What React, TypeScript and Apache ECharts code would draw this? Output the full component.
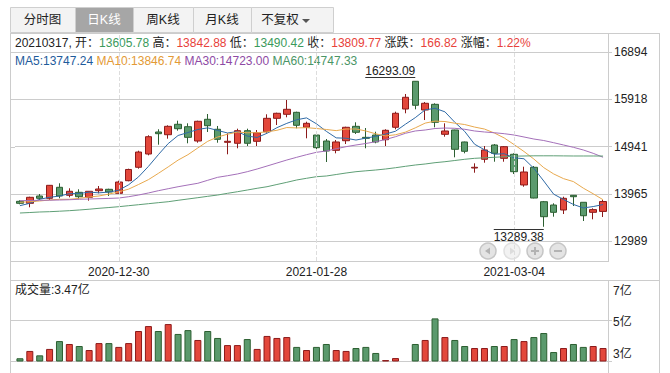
import React, { useEffect, useRef } from 'react';
import * as echarts from 'echarts';

const dates = ['2020-12-16','2020-12-17','2020-12-18','2020-12-21','2020-12-22','2020-12-23','2020-12-24','2020-12-25','2020-12-28','2020-12-29','2020-12-30','2020-12-31','2021-01-04','2021-01-05','2021-01-06','2021-01-07','2021-01-08','2021-01-11','2021-01-12','2021-01-13','2021-01-14','2021-01-15','2021-01-18','2021-01-19','2021-01-20','2021-01-21','2021-01-22','2021-01-25','2021-01-26','2021-01-27','2021-01-28','2021-01-29','2021-02-01','2021-02-02','2021-02-03','2021-02-04','2021-02-05','2021-02-08','2021-02-09','2021-02-10','2021-02-18','2021-02-19','2021-02-22','2021-02-23','2021-02-24','2021-02-25','2021-02-26','2021-03-01','2021-03-02','2021-03-03','2021-03-04','2021-03-05','2021-03-08','2021-03-09','2021-03-10','2021-03-11','2021-03-12','2021-03-15','2021-03-16','2021-03-17'];

const opens = [13814,13773,13924,13876,14103,13938,14000,13897,14033,14062,13979,14239,14516,14790,15244,15188,15403,15353,15058,15506,15300,15031,15011,15271,15052,15250,15526,15609,15650,15341,15182,15058,14866,15064,15361,15134,15182,15085,15341,15718,16290,15698,15815,15196,15285,15038,14501,14681,14976,14701,14784,14151,14516,13806,13738,13635,13938,13794,13587,13605.78];
const closes = [13773,13897,13876,14144,13924,14021,13909,14021,14068,14006,14212,14471,14831,15147,15209,15361,15312,15134,15465,15374,15093,15052,15271,15011,15229,15526,15630,15712,15382,15423,14920,14852,15038,15341,15238,15114,15038,15279,15630,15960,15795,15836,15444,15265,14887,14846,14516,14873,14804,14941,14425,14419,13882,13497,13587,13876,13909,13517,13643,13809.77];
const lows = [13752,13691,13841,13841,13876,13897,13856,13827,13979,13924,13975,14227,14487,14763,14982,15106,15271,15011,15023,15244,15023,14784,14908,14955,14955,15229,15388,15547,15320,15114,14887,14625,14804,14996,15203,14908,15011,14955,15299,15630,15712,15491,15341,15147,14722,14804,14404,14611,14631,14631,14378,14115,13876,13289.38,13497,13552,13717,13408,13443,13490.42];
const highs = [13835,13909,13965,14150,14186,14083,14062,14027,14130,14074,14239,14487,14858,15176,15300,15382,15477,15423,15477,15615,15368,15217,15312,15312,15285,15609,15642,15904,15663,15456,15250,15099,15079,15353,15444,15326,15250,15300,15663,16028,16293.09,15863,15836,15423,15290,15045,14598,14955,14996,14955,14804,14528,14542,13821,13773,13909,13944,13794,13670,13842.88];

// 成交量 (亿)
const volumes = [2.91,3.31,3.07,3.42,3.85,3.69,3.58,3.36,3.74,3.74,3.53,3.74,4.40,4.67,4.40,4.78,4.24,4.45,3.91,4.40,4.02,3.63,3.63,3.96,3.42,4.13,4.02,4.07,3.53,3.36,3.53,3.69,3.36,3.31,3.47,3.53,3.20,2.81,2.92,2.78,3.69,3.91,5.09,4.07,3.91,3.58,3.47,3.47,3.58,3.58,3.96,3.85,4.07,4.29,3.25,3.47,3.69,3.53,3.58,3.47];

const ma5 = [13724,13773,13856,13897,13923,13972,13975,14004,13989,14005,14043,14156,14318,14534,14775,15005,15172,15233,15296,15329,15276,15224,15251,15160,15131,15218,15333,15422,15496,15535,15413,15258,15123,15115,15078,15117,15154,15202,15260,15404,15540,15700,15733,15660,15445,15256,14992,14877,14785,14796,14712,14692,14494,14233,13962,13852,13750,13677,13706,13747.24];
const ma10 = [13794,13806,13821,13841,13856,13856,13876,13903,13924,13964,14008,14066,14161,14261,14390,14524,14664,14776,14915,15052,15140,15198,15242,15228,15230,15247,15279,15336,15328,15333,15316,15296,15272,15305,15306,15265,15206,15163,15187,15241,15329,15427,15468,15460,15425,15398,15346,15305,15223,15121,14984,14842,14686,14509,14379,14282,14221,14086,13970,13846.74];
const ma30 = [13827,13831,13835,13837,13841,13847,13856,13862,13868,13874,13882,13909,13944,13986,14033,14074,14115,14151,14186,14248,14309,14342,14378,14425,14481,14542,14604,14666,14722,14776,14825,14852,14899,14941,14976,15007,15044,15089,15147,15217,15265,15285,15316,15326,15320,15300,15265,15244,15229,15209,15182,15141,15099,15068,15023,14976,14928,14873,14804,14723.00];
const ma60 = [13573,13583,13594,13600,13610,13621,13635,13651,13670,13686,13703,13724,13744,13765,13786,13806,13835,13862,13889,13917,13944,13979,14012,14047,14083,14115,14161,14206,14254,14289,14322,14336,14367,14398,14425,14443,14460,14481,14507,14536,14563,14584,14611,14631,14656,14681,14701,14712,14722,14734,14745,14749,14753,14753,14753,14751,14749,14749,14749,14747.33];

const priceTicks = [12989, 13965, 14941, 15918, 16894];
const volumeTicks = [2.76, 5, 7.19];
const volumeTickLabels = ['3亿', '5亿', '7亿'];
const dateLabelIndexes = [10, 30, 50];
const tabNames = ['分时图', '日K线', '周K线', '月K线', '不复权'];
const infoDate = '20210317';
const infoValues = ['13605.78', '13842.88', '13490.42', '13809.77', '166.82', '1.22%'];
const maNames = ['MA5', 'MA10', 'MA30', 'MA60'];
const maLast = ['13747.24', '13846.74', '14723.00', '14747.33'];
const volumeLast = '3.47亿';

const FONT = '"Liberation Sans", "Noto Sans CJK SC", sans-serif';
const GRID = '#cccccc';
const UP_FILL = '#e3473b';
const UP_BORDER = '#8c1a1a';
const DOWN_FILL = '#5b9a6d';
const DOWN_BORDER = '#2c5f31';
const RED_TXT = '#e8423a';
const GREEN_TXT = '#3b9a5c';
const MA_LINE = ['#2f6aa6', '#e8a94e', '#a470b9', '#5f9f76'];
const MA_TXT = ['#1e5b9b', '#e39a35', '#8e4aa4', '#4a9566'];

const line = (x1: number, y1: number, x2: number, y2: number, color = GRID) => ({
  type: 'line', shape: { x1, y1, x2, y2 }, style: { stroke: color, lineWidth: 1 }, silent: true,
});

function buildGraphic() {
  const els: any[] = [];
  const tabX = [10, 75, 133, 193, 251];
  const tabW = [65, 58, 60, 58, 82];
  tabNames.forEach((name, i) => {
    const sel = i === 1;
    els.push({
      type: 'rect', shape: { x: tabX[i] + 0.5, y: 7.5, width: tabW[i], height: 25 },
      style: { fill: sel ? '#a6a6a6' : '#f3f3f3', stroke: '#cfcfcf', lineWidth: 1 }, silent: true,
    });
    const cx = i === 4 ? tabX[i] + 29 : tabX[i] + tabW[i] / 2;
    els.push({
      type: 'text', x: cx, y: 20,
      style: { text: name, fill: sel ? '#ffffff' : '#222', fontSize: 12.5, fontFamily: FONT, align: 'center', verticalAlign: 'middle' },
      silent: true,
    });
  });
  els.push({ type: 'polygon', shape: { points: [[302, 19], [310, 19], [306, 23]] }, style: { fill: '#555' }, silent: true });

  // frame lines
  els.push(line(10, 33.5, 660, 33.5));
  els.push(line(10.5, 33, 10.5, 373));
  els.push(line(659.5, 33, 659.5, 373));
  els.push(line(608.5, 33, 608.5, 261));
  els.push(line(608.5, 280, 608.5, 373));
  els.push(line(10, 261.5, 609, 261.5));
  els.push(line(10, 280.5, 660, 280.5));

  // info line
  const rich: any = {
    k: { fill: '#222', fontSize: 12, fontFamily: FONT },
    g: { fill: GREEN_TXT, fontSize: 12, fontFamily: FONT },
    r: { fill: RED_TXT, fontSize: 12, fontFamily: FONT },
  };
  const info = `{k|${infoDate}, 开：}{g|${infoValues[0]}}{k| 高：}{r|${infoValues[1]}}{k| 低：}{g|${infoValues[2]}}{k| 收：}{r|${infoValues[3]}}{k| 涨跌：}{r|${infoValues[4]}}{k| 涨幅：}{r|${infoValues[5]}}`;
  els.push({ type: 'text', x: 15, y: 43, style: { text: info, rich, verticalAlign: 'middle', fontSize: 12, fontFamily: FONT }, silent: true });

  const maRich: any = {};
  let maText = '';
  maNames.forEach((n, i) => {
    maRich['m' + i] = { fill: MA_TXT[i], fontSize: 12, fontFamily: FONT };
    maText += `{m${i}|${n}:${maLast[i]}${i < 3 ? ' ' : ''}}`;
  });
  els.push({ type: 'text', x: 15, y: 61, style: { text: maText, rich: maRich, verticalAlign: 'middle', fontSize: 12, fontFamily: FONT }, silent: true });

  els.push({ type: 'text', x: 15, y: 290, style: { text: `成交量:${volumeLast}`, fill: '#222', fontSize: 12, fontFamily: FONT, verticalAlign: 'middle' }, silent: true });

  // navigation buttons
  const btnX = [488, 512, 535, 558];
  btnX.forEach((x, i) => {
    els.push({ type: 'circle', shape: { cx: x, cy: 251, r: 8 }, style: { fill: i === 1 ? '#f2f2f2' : '#e4e4e4', stroke: i === 1 ? '#e0e0e0' : '#c6c6c6', lineWidth: 1.5 }, silent: true });
  });
  els.push({ type: 'polygon', shape: { points: [[490, 247.5], [490, 254.5], [485, 251]] }, style: { fill: '#b3b3b3' }, silent: true });
  els.push({ type: 'polygon', shape: { points: [[510, 247.5], [510, 254.5], [515, 251]] }, style: { fill: '#dcdcdc' }, silent: true });
  els.push({ type: 'rect', shape: { x: 531, y: 250, width: 8, height: 2 }, style: { fill: '#b3b3b3' }, silent: true });
  els.push({ type: 'rect', shape: { x: 534, y: 247, width: 2, height: 8 }, style: { fill: '#b3b3b3' }, silent: true });
  els.push({ type: 'rect', shape: { x: 554, y: 250, width: 8, height: 2 }, style: { fill: '#b3b3b3' }, silent: true });
  return els;
}

export default function App() {
  const ref = useRef<HTMLDivElement>(null);
  useEffect(() => {
    if (!ref.current) return;
    const chart = echarts.init(ref.current, undefined, { renderer: 'svg' });
    const candleData = dates.map((_, i) => [opens[i], closes[i], lows[i], highs[i]]);
    const volData = volumes.map((v, i) => ({
      value: v,
      itemStyle: closes[i] >= opens[i]
        ? { color: UP_FILL, borderColor: UP_BORDER, borderWidth: 1 }
        : { color: DOWN_FILL, borderColor: DOWN_BORDER, borderWidth: 1 },
    }));
    const hiIdx = highs.indexOf(Math.max(...highs));
    const loIdx = lows.indexOf(Math.min(...lows));
    const maList = [ma5, ma10, ma30, ma60];

    const option: any = {
      animation: false,
      backgroundColor: '#ffffff',
      textStyle: { fontFamily: FONT },
      grid: [
        { left: 15, top: 33, width: 593, height: 228, outerBoundsMode: 'none', containLabel: false },
        { left: 15, top: 280, width: 593, height: 81, outerBoundsMode: 'none', containLabel: false },
      ],
      xAxis: [
        {
          type: 'category', gridIndex: 0, data: dates, boundaryGap: true,
          axisLine: { show: false }, axisTick: { show: false }, splitLine: { show: false },
          axisLabel: {
            interval: (i: number) => dateLabelIndexes.includes(i),
            color: '#222', fontSize: 12, fontFamily: FONT, margin: 5,
          },
        },
        {
          type: 'category', gridIndex: 1, data: dates, boundaryGap: true,
          axisLine: { show: false }, axisTick: { show: false }, axisLabel: { show: false }, splitLine: { show: false },
        },
      ],
      yAxis: [
        {
          type: 'value', gridIndex: 0, position: 'right', min: 12583, max: 17286,
          axisLine: { show: false },
          axisTick: { show: true, length: 4, customValues: priceTicks, lineStyle: { color: GRID } },
          axisLabel: { customValues: priceTicks, color: '#222', fontSize: 12, fontFamily: FONT, margin: 6, formatter: (v: number) => String(Math.round(v)) },
          splitLine: { show: true, lineStyle: { color: GRID, width: 1 } },
        },
        {
          type: 'value', gridIndex: 1, position: 'right', min: volumeTicks[0], max: volumeTicks[2],
          axisLine: { show: false },
          axisTick: { show: true, length: 4, customValues: volumeTicks, lineStyle: { color: GRID } },
          axisLabel: {
            customValues: volumeTicks, color: '#222', fontSize: 12, fontFamily: FONT, margin: 5,
            formatter: (v: number) => {
              const k = volumeTicks.findIndex((t) => Math.abs(t - v) < 1e-6);
              const tag = k === 0 ? 'b' : k === 2 ? 't' : 'm';
              return `{${tag}|${volumeTickLabels[k] ?? ''}}`;
            },
            rich: {
              t: { padding: [22, 0, 0, 0], fontSize: 12, fontFamily: FONT, color: '#222' },
              m: { padding: [4, 0, 0, 0], fontSize: 12, fontFamily: FONT, color: '#222' },
              b: { padding: [0, 0, 14, 0], fontSize: 12, fontFamily: FONT, color: '#222' },
            },
          },
          splitLine: { show: true, lineStyle: { color: GRID, width: 1 } },
        },
      ],
      series: [
        {
          type: 'candlestick', xAxisIndex: 0, yAxisIndex: 0, data: candleData, barWidth: 7,
          itemStyle: { color: UP_FILL, color0: DOWN_FILL, borderColor: UP_BORDER, borderColor0: DOWN_BORDER, borderWidth: 1 },
          markLine: {
            silent: true, symbol: ['none', 'none'], label: { show: false }, animation: false,
            lineStyle: { type: 'dashed', color: '#dddddd', width: 1 },
            data: dateLabelIndexes.map((i) => ({ xAxis: dates[i] })),
          },
        },
        ...maList.map((d, k) => ({
          type: 'line', xAxisIndex: 0, yAxisIndex: 0, data: d, symbol: 'none', silent: true,
          lineStyle: { color: MA_LINE[k], width: 1 }, z: 3,
        })),
        {
          type: 'custom', xAxisIndex: 0, yAxisIndex: 0, silent: true, clip: false, z: 5,
          data: [[hiIdx, highs[hiIdx], 0], [loIdx, lows[loIdx], 1]],
          renderItem: (_p: any, api: any) => {
            const idx = api.value(0);
            const val = api.value(1);
            const kind = api.value(2);
            const pt = api.coord([idx, val]);
            const text = Number(val).toFixed(2);
            const x = pt[0];
            if (kind === 0) {
              const ly = Math.round(pt[1]) - 3.5;
              return {
                type: 'group', children: [
                  { type: 'line', shape: { x1: x - 50, y1: ly, x2: x, y2: ly }, style: { stroke: '#333', lineWidth: 1 } },
                  { type: 'text', x: x, y: ly - 1, style: { text, align: 'right', verticalAlign: 'bottom', fill: '#222', fontSize: 12, fontFamily: FONT } },
                ],
              };
            }
            const ly = Math.round(pt[1]) + 2.5;
            return {
              type: 'group', children: [
                { type: 'line', shape: { x1: x - 50, y1: ly, x2: x, y2: ly }, style: { stroke: '#333', lineWidth: 1 } },
                { type: 'text', x: x, y: ly + 1, style: { text, align: 'right', verticalAlign: 'top', fill: '#222', fontSize: 12, fontFamily: FONT } },
              ],
            };
          },
        },
        {
          type: 'bar', xAxisIndex: 1, yAxisIndex: 1, data: volData, barWidth: 7, silent: true,
        },
      ],
      graphic: buildGraphic(),
    };
    chart.setOption(option);

    // extend the horizontal grid lines to the left frame edge (positions from the axes)
    const ext: any[] = [];
    priceTicks.forEach((v) => {
      const y = Math.round(chart.convertToPixel({ yAxisIndex: 0 }, v) as number) + 0.5;
      ext.push(line(10.5, y, 15, y));
    });
    const y5 = Math.round(chart.convertToPixel({ yAxisIndex: 1 }, volumeTicks[1]) as number) + 0.5;
    ext.push(line(10.5, y5, 15, y5));
    const yb = Math.round(chart.convertToPixel({ yAxisIndex: 1 }, volumeTicks[0]) as number) + 0.5;
    ext.push(line(10.5, yb, 15, yb));
    chart.setOption({ graphic: [...buildGraphic(), ...ext] });

    return () => chart.dispose();
  }, []);
  return <div ref={ref} style={{ position: 'absolute', left: 0, top: 0, width: 670, height: 373, background: '#fff' }} />;
}
